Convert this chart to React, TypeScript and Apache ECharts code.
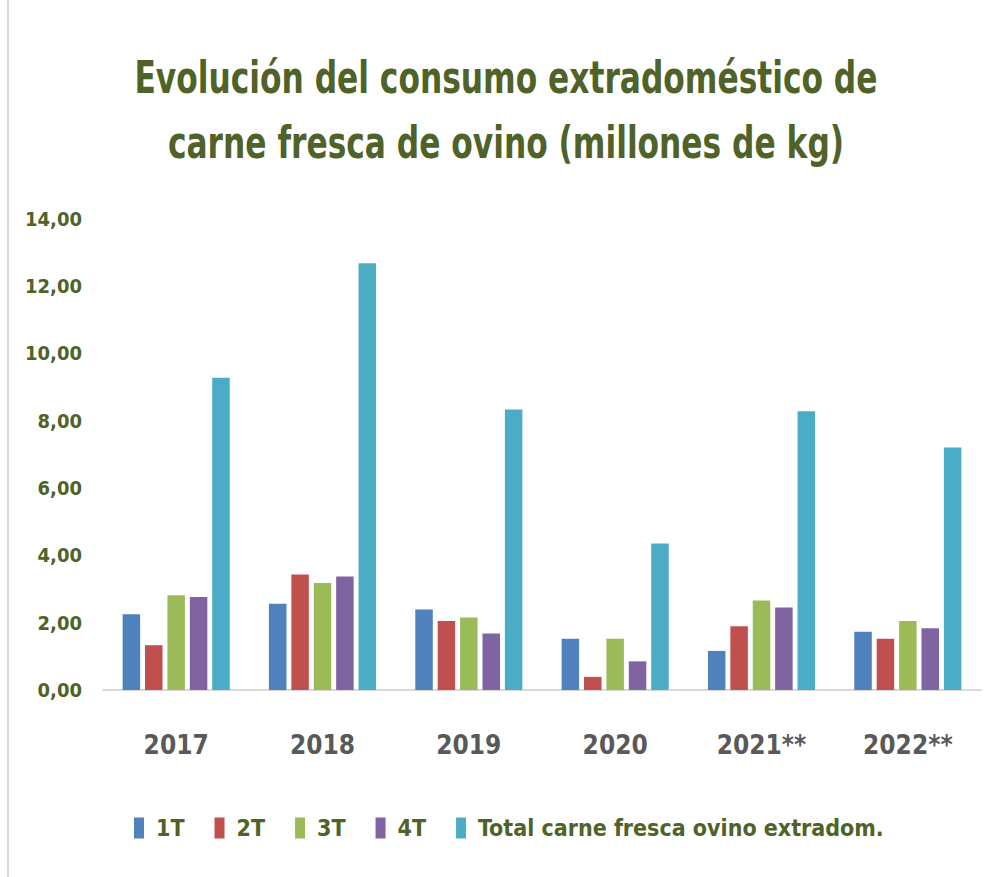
import React, { useEffect, useRef } from "react";
import * as echarts from "echarts";

const categories = ["2017", "2018", "2019", "2020", "2021**", "2022**"];
const seriesNames = ["1T", "2T", "3T", "4T", "Total carne fresca ovino extradom."];
const q1 = [2.25, 2.56, 2.39, 1.52, 1.16, 1.73];
const q2 = [1.33, 3.43, 2.05, 0.39, 1.89, 1.52];
const q3 = [2.81, 3.18, 2.15, 1.52, 2.66, 2.05];
const q4 = [2.76, 3.37, 1.68, 0.85, 2.45, 1.83];
const totalValues = [9.27, 12.67, 8.33, 4.35, 8.28, 7.2];
const titleLines = [
  "Evolución del consumo extradoméstico de",
  "carne fresca de ovino (millones de kg)",
];
const colors = ["#4F81BD", "#C0504D", "#9BBB59", "#8064A2", "#4BACC6"];
const yMin = 0;
const yMax = 14;
const yStep = 2;

const FONT = "'DejaVu Sans Condensed', 'DejaVu Sans', sans-serif";
const GREEN = "#4F6228";

export default function App() {
  const ref = useRef<HTMLDivElement>(null);
  useEffect(() => {
    if (!ref.current) return;
    const chart = echarts.init(ref.current, null, { renderer: "svg" });
    const data = [q1, q2, q3, q4, totalValues];
    chart.setOption({
      animation: false,
      backgroundColor: "#ffffff",
      graphic: [
        {
          type: "line",
          shape: { x1: 8, y1: 0, x2: 8, y2: 877 },
          style: { stroke: "#d9d9d9", lineWidth: 2 },
        },
        ...titleLines.map((t, i) => ({
          type: "text",
          x: 506,
          y: i === 0 ? 77.5 : 142,
          scaleX: 0.773,
          style: {
            text: t,
            fontFamily: FONT,
            fontWeight: "bold",
            fontSize: 45,
            fill: GREEN,
            textAlign: "center",
            textVerticalAlign: "middle",
          },
        })),
      ],
      legend: {
        data: seriesNames,
        left: 134,
        top: 816.5,
        padding: 0,
        itemWidth: 10,
        itemHeight: 21,
        itemGap: 30,
        icon: "rect",
        textStyle: {
          fontFamily: FONT,
          fontWeight: "bold",
          fontSize: 23,
          color: GREEN,
          padding: [0, 0, 0, 7],
        },
      },
      grid: { left: 103, right: 14, top: 218.5, bottom: 187, containLabel: false },
      xAxis: {
        type: "category",
        data: categories,
        axisLine: { show: true, lineStyle: { color: "#d9d9d9", width: 2 } },
        axisTick: { show: false },
        axisLabel: {
          interval: 0,
          fontFamily: FONT,
          fontWeight: "bold",
          fontSize: 26,
          color: "#595959",
          margin: 42,
        },
      },
      yAxis: {
        type: "value",
        min: yMin,
        max: yMax,
        interval: yStep,
        axisLine: { show: false },
        axisTick: { show: false },
        splitLine: { show: false },
        axisLabel: {
          fontFamily: FONT,
          fontWeight: "bold",
          fontSize: 20,
          color: GREEN,
          margin: 21,
          formatter: (v: number) => v.toFixed(2).replace(".", ","),
        },
      },
      series: seriesNames.map((name, i) => ({
        name,
        type: "bar",
        data: data[i],
        barWidth: 17.5,
        barGap: "28%",
        itemStyle: { color: colors[i] },
      })),
    });
    return () => chart.dispose();
  }, []);
  return (
    <div
      ref={ref}
      style={{ position: "fixed", left: 0, top: 0, width: 995, height: 877 }}
    />
  );
}
